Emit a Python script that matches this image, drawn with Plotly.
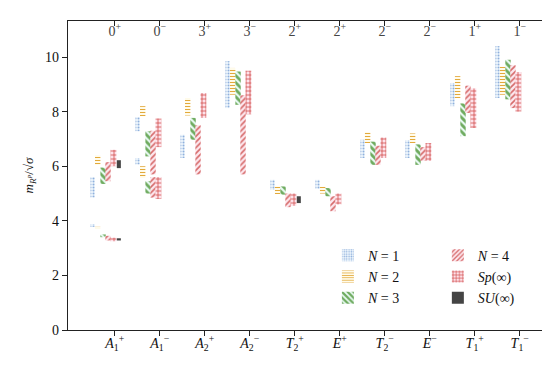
import plotly.graph_objects as go

# ---------------- data ----------------
channels_bottom = ["<i>A</i><sub>1</sub><sup>+</sup>", "<i>A</i><sub>1</sub><sup>−</sup>",
                   "<i>A</i><sub>2</sub><sup>+</sup>", "<i>A</i><sub>2</sub><sup>−</sup>",
                   "<i>T</i><sub>2</sub><sup>+</sup>", "<i>E</i><sup>+</sup>",
                   "<i>T</i><sub>2</sub><sup>−</sup>", "<i>E</i><sup>−</sup>",
                   "<i>T</i><sub>1</sub><sup>+</sup>", "<i>T</i><sub>1</sub><sup>−</sup>"]
channels_top = ["0<sup>+</sup>", "0<sup>−</sup>", "3<sup>+</sup>", "3<sup>−</sup>", "2<sup>+</sup>",
                "2<sup>+</sup>", "2<sup>−</sup>", "2<sup>−</sup>", "1<sup>+</sup>", "1<sup>−</sup>"]

# channel index of each state (A1+ and A1- have two states)
state_channel = [0, 0, 1, 1, 2, 3, 4, 5, 6, 7, 8, 9]

n1_low  = [3.78, 4.85, 7.28, 6.06, 6.30, 8.13, 5.14, 5.17, 6.30, 6.30, 8.20, 8.50]
n1_high = [3.88, 5.60, 7.80, 6.30, 7.15, 9.85, 5.50, 5.50, 6.97, 6.95, 9.05, 10.40]

n2_low  = [3.70, 6.05, 7.83, 5.57, 7.86, 8.62, 4.98, 5.00, 6.85, 6.85, 8.50, 8.62]
n2_high = [3.78, 6.40, 8.20, 6.00, 8.50, 9.60, 5.26, 5.25, 7.25, 7.20, 9.30, 9.65]

n3_low  = [3.40, 5.35, 6.36, 5.00, 6.97, 8.25, 4.96, 4.90, 6.05, 6.05, 7.10, 8.45]
n3_high = [3.50, 5.95, 7.28, 5.45, 7.77, 9.47, 5.26, 5.20, 6.90, 6.80, 8.30, 9.90]

n4_low  = [3.28, 5.45, 5.70, 4.85, 5.70, 5.70, 4.50, 4.35, 6.05, 6.20, 7.95, 8.13]
n4_high = [3.45, 6.15, 7.30, 5.60, 7.50, 8.60, 5.00, 4.90, 6.75, 6.70, 8.95, 9.70]

sp_low  = [3.25, 6.00, 6.70, 4.80, 7.77, 7.90, 4.55, 4.60, 6.30, 6.20, 7.40, 8.00]
sp_high = [3.38, 6.60, 7.75, 5.60, 8.68, 9.50, 5.00, 5.00, 7.05, 6.85, 8.85, 9.45]

su_low  = [3.28, 5.93, None, None, None, None, 4.65, None, None, None, None, None]
su_high = [3.36, 6.22, None, None, None, None, 4.90, None, None, None, None, None]

# ---------------- styling ----------------
series = [
    dict(name="<i>N</i> = 1", low=n1_low, high=n1_high, off=-0.49, w=0.10,
         shape=".", fg="#8fb0dc", bg="#f1f8fd", size=3, sol=0.35, legend="legend"),
    dict(name="<i>N</i> = 2", low=n2_low, high=n2_high, off=-0.38, w=0.12,
         shape="-", fg="#e3a93c", bg="#fffbea", size=3, sol=0.35, legend="legend"),
    dict(name="<i>N</i> = 3", low=n3_low, high=n3_high, off=-0.26, w=0.12,
         shape="\\", fg="#6fab5f", bg="#e9faf4", size=5, sol=0.55, legend="legend"),
    dict(name="<i>N</i> = 4", low=n4_low, high=n4_high, off=-0.15, w=0.12,
         shape="/", fg="#d66a6a", bg="#fde7ee", size=4, sol=0.4, legend="legend2"),
    dict(name="<i>Sp</i>(∞)", low=sp_low, high=sp_high, off=-0.03, w=0.13,
         shape="+", fg="#d04a48", bg="#fde2ea", size=4, sol=0.35, legend="legend2"),
    dict(name="<i>SU</i>(∞)", low=su_low, high=su_high, off=0.09, w=0.09,
         shape="", fg="#444444", bg="#444444", size=4, sol=1.0, legend="legend2"),
]

fig = go.Figure()
for s in series:
    xs, bases, hs = [], [], []
    for ch, lo, hi in zip(state_channel, s["low"], s["high"]):
        if lo is None or hi is None:
            continue
        xs.append(ch + s["off"])
        bases.append(lo)
        hs.append(hi - lo)
    if s["shape"]:
        marker = dict(color=s["bg"], line=dict(width=0),
                      pattern=dict(shape=s["shape"], fgcolor=s["fg"], bgcolor=s["bg"],
                                   size=s["size"], solidity=s["sol"], fillmode="replace"))
    else:
        marker = dict(color=s["fg"], line=dict(width=0))
    fig.add_trace(go.Bar(x=xs, y=hs, base=bases, width=s["w"], name=s["name"],
                         marker=marker, legend=s["legend"], hoverinfo="skip"))

# dummy trace to activate the top axis
ticks = list(range(len(channels_bottom)))
fig.add_trace(go.Scatter(x=ticks, y=[0] * len(ticks), xaxis="x2", mode="markers",
                         marker=dict(opacity=0), showlegend=False, hoverinfo="skip"))

font_family = "Liberation Serif, DejaVu Serif, serif"
xr = [-1.04, 9.54]

fig.update_layout(
    width=550, height=369,
    margin=dict(l=60, r=14, t=13, b=47),
    paper_bgcolor="white", plot_bgcolor="white",
    barmode="overlay",
    font=dict(family=font_family, size=14, color="#111111"),
    xaxis=dict(range=xr, tickvals=ticks, ticktext=channels_bottom, showgrid=False,
               zeroline=False, showline=True, linecolor="#222222", linewidth=1.3,
               ticks="outside", ticklen=5, tickcolor="#222222", mirror=False,
               tickfont=dict(size=14), ticklabelstandoff=-5),
    xaxis2=dict(range=xr, overlaying="x", side="top", tickvals=ticks, ticktext=channels_top,
                showgrid=False, zeroline=False, showline=True, linecolor="#222222",
                linewidth=1.3, ticks="inside", ticklen=5, tickcolor="#222222",
                ticklabelposition="inside", tickfont=dict(size=14)),
    yaxis=dict(range=[0, 11.32], tickvals=[0, 2, 4, 6, 8, 10], showgrid=False,
               zeroline=False, showline=True, linecolor="#222222", linewidth=1.3,
               mirror=True, ticks="outside", ticklen=5, tickcolor="#222222",
               tickfont=dict(size=14),
               title=dict(text="<i>m</i><sub><i>R</i><sup><i>P</i></sup></sub>/√<i>σ</i>",
                          font=dict(size=13), standoff=8)),
    legend=dict(x=0.546, y=0.292, xanchor="left", yanchor="top", bgcolor="rgba(0,0,0,0)",
                traceorder="normal", font=dict(size=14), tracegroupgap=0),
    legend2=dict(x=0.777, y=0.292, xanchor="left", yanchor="top", bgcolor="rgba(0,0,0,0)",
                 traceorder="normal", font=dict(size=14), tracegroupgap=0),
)

fig.write_html("out.html")
